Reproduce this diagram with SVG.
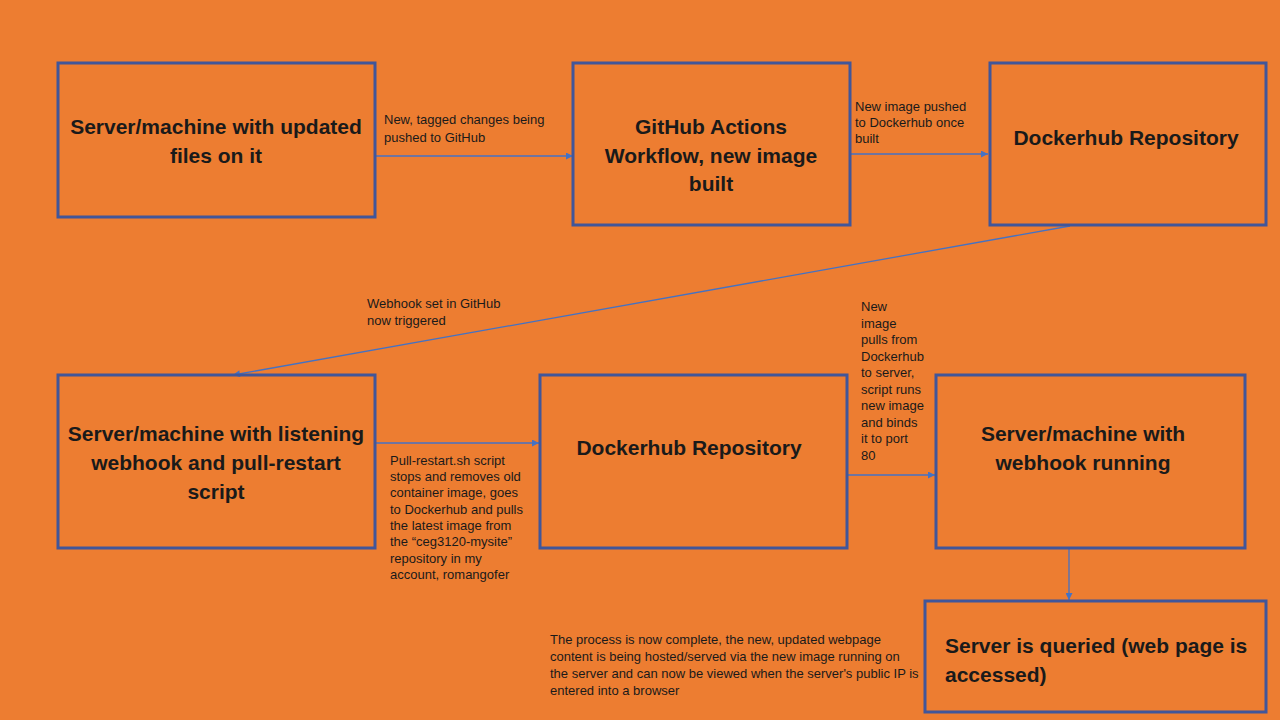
<svg xmlns="http://www.w3.org/2000/svg" width="1280" height="720" viewBox="0 0 1280 720">
<defs>
<marker id="arr" viewBox="0 0 10 10" refX="10" refY="5" markerWidth="8" markerHeight="7" markerUnits="userSpaceOnUse" orient="auto">
<path d="M0,0 L10,5 L0,10 z" fill="#4472C4"/>
</marker>
<style>
.box{fill:none;stroke:#41569A;stroke-width:3}
.t{font-family:"Liberation Sans",Arial,sans-serif;font-weight:bold;font-size:21px;fill:#1a1a1a;text-anchor:middle}
.l{font-family:"Liberation Sans",Arial,sans-serif;font-size:13px;fill:#1a1a1a}
.c{stroke:#4472C4;stroke-width:1.3;fill:none;marker-end:url(#arr)}
</style>
</defs>
<rect width="1280" height="720" fill="#ED7D31"/>
<g id="connectors">
<line class="c" x1="376" y1="156" x2="573" y2="156"/>
<line class="c" x1="851" y1="154" x2="988" y2="154"/>
<line class="c" x1="1070" y1="226" x2="233" y2="375"/>
<line class="c" x1="376" y1="443" x2="539" y2="443"/>
<line class="c" x1="848" y1="475" x2="935" y2="475"/>
<line class="c" x1="1069" y1="549" x2="1069" y2="600"/>
</g>
<g id="n1">
<rect class="box" x="58" y="63" width="317" height="154"/>
<text class="t" x="216" y="134">Server/machine with updated</text>
<text class="t" x="216" y="163">files on it</text>
</g>
<g id="n2">
<rect class="box" x="573" y="63" width="277" height="162"/>
<text class="t" x="711" y="134">GitHub Actions</text>
<text class="t" x="711" y="163">Workflow, new image</text>
<text class="t" x="711" y="191">built</text>
</g>
<g id="n3">
<rect class="box" x="990" y="63" width="276" height="162"/>
<text class="t" x="1126" y="145">Dockerhub Repository</text>
</g>
<g id="n4">
<rect class="box" x="58" y="375" width="317" height="173"/>
<text class="t" x="216" y="441">Server/machine with listening</text>
<text class="t" x="216" y="470">webhook and pull-restart</text>
<text class="t" x="216" y="499">script</text>
</g>
<g id="n5">
<rect class="box" x="540" y="375" width="307" height="173"/>
<text class="t" x="689" y="455">Dockerhub Repository</text>
</g>
<g id="n6">
<rect class="box" x="936" y="375" width="309" height="173"/>
<text class="t" x="1083" y="441">Server/machine with</text>
<text class="t" x="1083" y="470">webhook running</text>
</g>
<g id="n7">
<rect class="box" x="925" y="601" width="341" height="111"/>
<text class="t" x="945" y="653" style="text-anchor:start">Server is queried (web page is</text>
<text class="t" x="945" y="682" style="text-anchor:start">accessed)</text>
</g>
<g id="labels">
<text class="l" x="384" y="124">New, tagged changes being</text>
<text class="l" x="384" y="142">pushed to GitHub</text>
<text class="l" x="855" y="111">New image pushed</text>
<text class="l" x="855" y="127">to Dockerhub once</text>
<text class="l" x="855" y="143">built</text>
<text class="l" x="367" y="308">Webhook set in GitHub</text>
<text class="l" x="367" y="325">now triggered</text>
<text class="l" x="390" y="465">Pull-restart.sh script</text>
<text class="l" x="390" y="481">stops and removes old</text>
<text class="l" x="390" y="497">container image, goes</text>
<text class="l" x="390" y="514">to Dockerhub and pulls</text>
<text class="l" x="390" y="530">the latest image from</text>
<text class="l" x="390" y="546">the “ceg3120-mysite”</text>
<text class="l" x="390" y="563">repository in my</text>
<text class="l" x="390" y="579">account, romangofer</text>
<text class="l" x="861" y="311">New</text>
<text class="l" x="861" y="328">image</text>
<text class="l" x="861" y="344">pulls from</text>
<text class="l" x="861" y="361">Dockerhub</text>
<text class="l" x="861" y="377">to server,</text>
<text class="l" x="861" y="394">script runs</text>
<text class="l" x="861" y="410">new image</text>
<text class="l" x="861" y="427">and binds</text>
<text class="l" x="861" y="443">it to port</text>
<text class="l" x="861" y="460">80</text>
<text class="l" x="550" y="644">The process is now complete, the new, updated webpage</text>
<text class="l" x="550" y="661">content is being hosted/served via the new image running on</text>
<text class="l" x="550" y="678">the server and can now be viewed when the server's public IP is</text>
<text class="l" x="550" y="695">entered into a browser</text>
</g>
</svg>
